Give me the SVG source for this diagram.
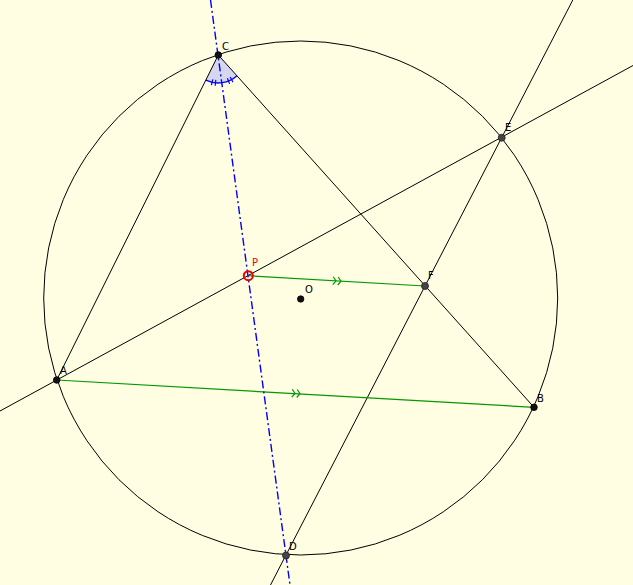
<svg xmlns="http://www.w3.org/2000/svg" width="633" height="585" viewBox="0 0 633 585">
<style>
.bl{stroke:#000;stroke-width:1;fill:none}
.gr{stroke:#009900;stroke-width:1.2;fill:none}
.bd{stroke:#0000ff;stroke-width:1.4;fill:none;stroke-dasharray:8,3,2,3}
.lab{font-family:"DejaVu Sans",sans-serif;font-size:10px;fill:#000}
.pt{fill:#111;stroke:#000;stroke-width:0.8}
.pt2{fill:#444;stroke:#222;stroke-width:0.8}
</style>
<rect width="633" height="585" fill="#fffde2"/>
<g id="circle"><circle cx="300.7" cy="298" r="257" class="bl"/></g>
<g id="angle">
<path d="M218.3,55 L237,75.8 A28,28 0 0 1 205.9,80.1 Z" fill="#d6d6f0" stroke="none"/>
<path d="M237,75.8 A28,28 0 0 1 205.9,80.1" fill="none" stroke="#0000ff" stroke-width="1.3"/>
<path d="M215.8,79.9 L215.2,85.8 M212.8,79.4 L211.4,85.2 M230.2,77 L233,82.3 M227.4,78.3 L229.6,83.9" stroke="#0000ff" stroke-width="1.2"/>
</g>
<g id="connectors">
<line x1="56.7" y1="380" x2="218.3" y2="55" class="bl"/>
<line x1="218.3" y1="55" x2="534" y2="407.3" class="bl"/>
<line x1="0" y1="411" x2="633" y2="65.5" class="bl"/>
<line x1="572.8" y1="0" x2="270.5" y2="585" class="bl"/>
<line x1="56.7" y1="380" x2="534" y2="407.3" class="gr"/>
<line x1="248.3" y1="275.7" x2="425" y2="286" class="gr"/>
<line x1="210.5" y1="0" x2="290" y2="585" class="bd"/>
<g transform="translate(297,393.5) rotate(3.24)"><path d="M-5,-4 L-2,0 L-5,4 M0,-4 L3,0 L0,4" class="gr"/></g>
<g transform="translate(338,281) rotate(3.3)"><path d="M-5,-4 L-2,0 L-5,4 M0,-4 L3,0 L0,4" class="gr"/></g>
</g>
<g id="A"><circle cx="56.7" cy="380" r="3.3" class="pt"/><text x="60" y="374" class="lab">A</text></g>
<g id="B"><circle cx="534" cy="407.3" r="3.3" class="pt"/><text x="537" y="402" class="lab">B</text></g>
<g id="C"><circle cx="218.3" cy="55" r="3.3" class="pt"/><text x="222" y="50" class="lab">C</text></g>
<g id="D"><circle cx="286" cy="555.5" r="3.5" class="pt2"/><text x="289" y="550" class="lab">D</text></g>
<g id="E"><circle cx="501.7" cy="137.7" r="3.5" class="pt2"/><text x="505" y="131" class="lab">E</text></g>
<g id="F"><circle cx="425" cy="286" r="3.5" class="pt2"/><text x="428" y="279" class="lab">F</text></g>
<g id="O"><circle cx="300.7" cy="299" r="3.2" class="pt"/><text x="305" y="293" class="lab">O</text></g>
<g id="P"><circle cx="248.3" cy="275.7" r="4.5" fill="none" stroke="#ee0000" stroke-width="2"/><text x="252" y="266" class="lab" style="fill:#ee0000">P</text></g>
</svg>
